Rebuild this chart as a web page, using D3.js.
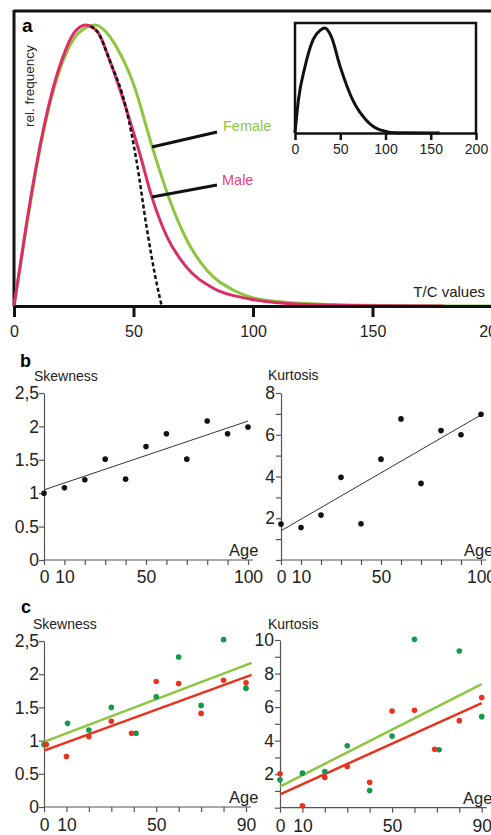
<!DOCTYPE html>
<html><head><meta charset="utf-8">
<script src="https://cdn.jsdelivr.net/npm/d3@7"></script>
<style>body{margin:0;background:#fff}svg{display:block}text{font-family:"Liberation Sans",Arial,Helvetica,sans-serif}</style>
</head><body><svg id="chart" width="491" height="835"></svg>
<script>
// ---------- DATA ----------
// Panel a: relative frequency curves (T/C value, fraction of peak)
const tcTicks = [0, 50, 100, 150, 200];
const maleT = [0, 5, 10, 15, 20, 25, 30, 35, 40, 47, 52.7, 57.6, 63.8, 72, 83, 98.7, 120, 150, 180];
const maleF = [0, 0.28, 0.53, 0.73, 0.875, 0.97, 1, 0.975, 0.875, 0.70, 0.54, 0.39, 0.25, 0.14, 0.065, 0.025, 0.006, 0.001, 0];
const femaleT = [0, 5, 10, 15, 20, 25, 30, 34, 38, 43, 50, 57.7, 64.6, 72.3, 80.6, 91.7, 98.7, 112.6, 133, 160, 200];
const femaleF = [0, 0.27, 0.52, 0.72, 0.86, 0.95, 0.99, 1, 0.98, 0.92, 0.79, 0.57, 0.39, 0.235, 0.128, 0.057, 0.032, 0.014, 0.005, 0.001, 0];
const dashT = [32, 35, 40, 47, 51.2, 55.5, 59.7, 61.8];
const dashF = [0.995, 0.975, 0.875, 0.70, 0.52, 0.28, 0.08, 0];
const insetT = [0, 3.7, 11, 20, 28, 33, 40, 50, 64, 79, 94, 112, 160];
const insetF = [0, 0.31, 0.63, 0.89, 0.98, 1, 0.92, 0.63, 0.31, 0.12, 0.03, 0.003, 0];

// Panel b
const bAges = [0, 10, 20, 30, 40, 50, 60, 70, 80, 90, 100];
const bSkew = [1.0, 1.08, 1.2, 1.51, 1.21, 1.70, 1.89, 1.51, 2.08, 1.89, 1.99];
const bKurt = [1.72, 1.56, 2.15, 3.96, 1.74, 4.83, 6.76, 3.67, 6.2, 6.0, 6.98];
const bFitAges = [0, 100];
const bSkewFit = [1.05, 2.08];
const bKurtFit = [1.40, 6.95];
const bAgeTicks = [0, 10, 20, 30, 40, 50, 60, 70, 80, 90, 100];
const bAgeLabels = [0, 10, 50, 100];

// Panel c (green = female, red = male)
const cGreenAgesSkew = [0, 10.5, 20, 30, 41, 50, 60, 70, 80, 90];
const cGreenSkew = [0.94, 1.26, 1.16, 1.50, 1.11, 1.66, 2.26, 1.53, 2.52, 1.79];
const cRedAgesSkew = [1, 10, 20, 30, 39, 50, 60, 70, 80, 90];
const cRedSkew = [0.94, 0.76, 1.06, 1.29, 1.11, 1.89, 1.86, 1.41, 1.91, 1.87];
const cGreenAgesKurt = [0, 10, 20, 30, 40, 50, 60, 71, 80, 90];
const cGreenKurt = [1.66, 2.06, 2.16, 3.69, 1.02, 4.27, 10.04, 3.46, 9.34, 5.43];
const cRedAgesKurt = [0, 10, 20, 30, 40, 50, 60, 69, 80, 90];
const cRedKurt = [2.02, 0.12, 1.80, 2.46, 1.52, 5.77, 5.81, 3.48, 5.19, 6.57];
const cSkewFitAges = [0, 92.5];
const cGreenSkewFit = [0.98, 2.17];
const cRedSkewFit = [0.85, 1.99];
const cKurtFitAges = [0, 90];
const cGreenKurtFit = [1.26, 7.37];
const cRedKurtFit = [0.80, 6.23];
const cAgeTicks = [0, 10, 20, 30, 40, 50, 60, 70, 80, 90];
const cAgeLabels = [0, 10, 50, 90];

const skewTicks = [0, 0.5, 1, 1.5, 2, 2.5];
const skewLabels = ["0", "0.5", "1", "1.5", "2", "2,5"];
const bKurtTicks = [0, 1, 2, 3, 4, 5, 6, 7, 8];
const bKurtLabels = [2, 4, 6, 8];
const cKurtTicks = [0, 1, 2, 3, 4, 5, 6, 7, 8, 9, 10];
const cKurtLabels = [2, 4, 6, 8, 10];

// ---------- STYLE ----------
const PINK = "#dc2d66", PINK_TXT = "#e8457a";
const LGREEN = "#8cc63e", LGREEN_TXT = "#8dc647";
const RED = "#e8321e", DGREEN = "#12994a";
const AX = "#555";

const svg = d3.select("#chart");
const zip = (a, b) => a.map((v, i) => [v, b[i]]);

// ---------- PANEL A ----------
const xA = d3.scaleLinear().domain([0, 200]).range([14, 492]);
const yA = d3.scaleLinear().domain([0, 1]).range([306, 25]);
const gA = svg.append("g");

// frame: top and left
gA.append("line").attr("x1", xA(0)).attr("x2", 491).attr("y1", 11).attr("y2", 11)
  .attr("stroke", "#111").attr("stroke-width", 3);
gA.append("line").attr("x1", xA(0)).attr("x2", xA(0)).attr("y1", 10).attr("y2", yA(0))
  .attr("stroke", "#111").attr("stroke-width", 3);

const lineA = d3.line().x(d => xA(d[0])).y(d => yA(d[1])).curve(d3.curveMonotoneX);
gA.append("path").attr("d", lineA(zip(femaleT, femaleF))).attr("fill", "none")
  .attr("stroke", LGREEN).attr("stroke-width", 3);
gA.append("path").attr("d", lineA(zip(maleT, maleF))).attr("fill", "none")
  .attr("stroke", PINK).attr("stroke-width", 3);
gA.append("path").attr("d", lineA(zip(dashT, dashF))).attr("fill", "none")
  .attr("stroke", "#111").attr("stroke-width", 2.5).attr("stroke-dasharray", "4,2.5");

const axA = gA.append("g").attr("transform", `translate(0,${yA(0)})`)
  .call(d3.axisBottom(xA).tickValues(tcTicks).tickSize(11).tickSizeOuter(0).tickPadding(9));
axA.select(".domain").attr("stroke", "#111").attr("stroke-width", 3);
axA.selectAll(".tick line").attr("stroke", "#111").attr("stroke-width", 3);
axA.selectAll(".tick text").attr("font-size", 16).attr("fill", "#222").attr("font-family", "Liberation Sans, Arial, sans-serif");

gA.append("text").attr("x", 22).attr("y", 32).attr("font-size", 19).attr("font-weight", "bold").text("a");
gA.append("text").attr("transform", "translate(34,127) rotate(-90)").attr("font-size", 13.5).attr("fill", "#222").text("rel. frequency");
gA.append("text").attr("x", 485).attr("y", 297).attr("text-anchor", "end").attr("font-size", 15).attr("fill", "#222").text("T/C values");

// leader lines & labels
gA.append("line").attr("x1", 152).attr("y1", 147).attr("x2", 217).attr("y2", 132).attr("stroke", "#111").attr("stroke-width", 3);
gA.append("line").attr("x1", 152).attr("y1", 197).attr("x2", 217).attr("y2", 185).attr("stroke", "#111").attr("stroke-width", 3);
gA.append("text").attr("x", 223).attr("y", 131).attr("font-size", 14.5).attr("fill", LGREEN_TXT).text("Female");
gA.append("text").attr("x", 222).attr("y", 185).attr("font-size", 14.5).attr("fill", PINK_TXT).text("Male");

// inset
const xI = d3.scaleLinear().domain([0, 200]).range([295, 476]);
const yI = d3.scaleLinear().domain([0, 1]).range([133, 28]);
const gI = svg.append("g");
gI.append("path").attr("d", `M${xI(0)},${yI(0)}V23H${xI(200)}V${yI(0)}`).attr("fill", "none")
  .attr("stroke", "#111").attr("stroke-width", 2.5);
const lineI = d3.line().x(d => xI(d[0])).y(d => yI(d[1])).curve(d3.curveMonotoneX);
gI.append("path").attr("d", lineI(zip(insetT, insetF))).attr("fill", "none").attr("stroke", "#111").attr("stroke-width", 3);
const axI = gI.append("g").attr("transform", `translate(0,${yI(0)})`)
  .call(d3.axisBottom(xI).tickValues(tcTicks).tickSize(7).tickSizeOuter(0).tickPadding(4));
axI.select(".domain").attr("stroke", "#111").attr("stroke-width", 2.5);
axI.selectAll(".tick line").attr("stroke", "#111").attr("stroke-width", 2.5);
axI.selectAll(".tick text").attr("font-size", 14).attr("fill", "#222").attr("font-family", "Liberation Sans, Arial, sans-serif");

// ---------- SCATTER PANELS ----------
function scatterPanel(opt) {
  const g = svg.append("g");
  const x = d3.scaleLinear().domain(opt.xDomain).range(opt.xRange);
  const y = d3.scaleLinear().domain(opt.yDomain).range(opt.yRange);
  // x axis
  const ax = g.append("g").attr("transform", `translate(0,${opt.yRange[0]})`)
    .call(d3.axisBottom(x).tickValues(opt.xTicks).tickSize(5).tickSizeOuter(0).tickPadding(opt.xPad)
      .tickFormat(d => opt.xLabels.includes(d) ? d : ""));
  ax.select(".domain").attr("stroke", AX).attr("stroke-width", 1.2)
    .attr("d", `M${opt.xRange[0]},0H${opt.xRange[1] + 5}`);
  ax.selectAll(".tick line").attr("stroke", AX).attr("stroke-width", 1.2);
  ax.selectAll(".tick text").attr("font-size", 17.5).attr("fill", "#222").attr("font-family", "Liberation Sans, Arial, sans-serif");
  // y axis
  const ay = g.append("g").attr("transform", `translate(${opt.xRange[0]},0)`)
    .call(d3.axisLeft(y).tickValues(opt.yTicks).tickSize(5).tickSizeOuter(0).tickPadding(opt.yPad)
      .tickFormat((d, i) => opt.yFormat(d, i)));
  ay.select(".domain").attr("stroke", AX).attr("stroke-width", 1.2);
  ay.selectAll(".tick line").attr("stroke", AX).attr("stroke-width", 1.2);
  ay.selectAll(".tick text").attr("font-size", 17.5).attr("fill", "#222").attr("font-family", "Liberation Sans, Arial, sans-serif");
  // title and axis label
  g.append("text").attr("x", opt.titleX).attr("y", opt.titleY).attr("font-size", 14).attr("fill", "#222").text(opt.title);
  g.append("text").attr("x", opt.ageX).attr("y", opt.yRange[0] - 4).attr("font-size", 16.5).attr("fill", "#222").text("Age");
  // fits
  const ln = d3.line().x(d => x(d[0])).y(d => y(d[1]));
  opt.fits.forEach(f => g.append("path").attr("d", ln(zip(f.ages, f.vals))).attr("fill", "none")
    .attr("stroke", f.color).attr("stroke-width", f.width));
  // points
  opt.series.forEach(s => g.selectAll(null).data(zip(s.ages, s.vals)).enter().append("circle")
    .attr("cx", d => x(d[0])).attr("cy", d => y(d[1])).attr("r", 2.8).attr("fill", s.color));
  return g;
}

// b - skewness
scatterPanel({
  xDomain: [0, 100], xRange: [44, 248], yDomain: [0, 2.5], yRange: [560, 393],
  xTicks: bAgeTicks, xLabels: bAgeLabels, xPad: 6,
  yTicks: skewTicks, yFormat: (d, i) => skewLabels[i], yPad: 0,
  title: "Skewness", titleX: 34, titleY: 381, ageX: 229,
  fits: [{ ages: bFitAges, vals: bSkewFit, color: "#333", width: 1 }],
  series: [{ ages: bAges, vals: bSkew, color: "#111" }]
});
// b - kurtosis
scatterPanel({
  xDomain: [0, 100], xRange: [281, 481], yDomain: [0, 8], yRange: [560, 393],
  xTicks: bAgeTicks, xLabels: bAgeLabels, xPad: 6,
  yTicks: bKurtTicks, yFormat: d => bKurtLabels.includes(d) ? d : "", yPad: 1,
  title: "Kurtosis", titleX: 268, titleY: 380, ageX: 464,
  fits: [{ ages: bFitAges, vals: bKurtFit, color: "#333", width: 1 }],
  series: [{ ages: bAges, vals: bKurt, color: "#111" }]
});
// c - skewness
scatterPanel({
  xDomain: [0, 90], xRange: [44, 246], yDomain: [0, 2.5], yRange: [807, 641],
  xTicks: cAgeTicks, xLabels: cAgeLabels, xPad: 7,
  yTicks: skewTicks, yFormat: (d, i) => skewLabels[i], yPad: 0,
  title: "Skewness", titleX: 33, titleY: 629, ageX: 229,
  fits: [{ ages: cSkewFitAges, vals: cGreenSkewFit, color: LGREEN, width: 2.5 },
         { ages: cSkewFitAges, vals: cRedSkewFit, color: RED, width: 2.5 }],
  series: [{ ages: cGreenAgesSkew, vals: cGreenSkew, color: DGREEN },
           { ages: cRedAgesSkew, vals: cRedSkew, color: RED }]
});
// c - kurtosis
scatterPanel({
  xDomain: [0, 90], xRange: [280, 481.7], yDomain: [0, 10], yRange: [807.7, 640],
  xTicks: cAgeTicks, xLabels: cAgeLabels, xPad: 7,
  yTicks: cKurtTicks, yFormat: d => cKurtLabels.includes(d) ? d : "", yPad: 1,
  title: "Kurtosis", titleX: 268, titleY: 629, ageX: 463,
  fits: [{ ages: cKurtFitAges, vals: cGreenKurtFit, color: LGREEN, width: 2.5 },
         { ages: cKurtFitAges, vals: cRedKurtFit, color: RED, width: 2.5 }],
  series: [{ ages: cGreenAgesKurt, vals: cGreenKurt, color: DGREEN },
           { ages: cRedAgesKurt, vals: cRedKurt, color: RED }]
});

svg.append("text").attr("x", 20).attr("y", 367).attr("font-size", 18).attr("font-weight", "bold").text("b");
svg.append("text").attr("x", 21).attr("y", 613).attr("font-size", 18).attr("font-weight", "bold").text("c");
</script></body></html>
